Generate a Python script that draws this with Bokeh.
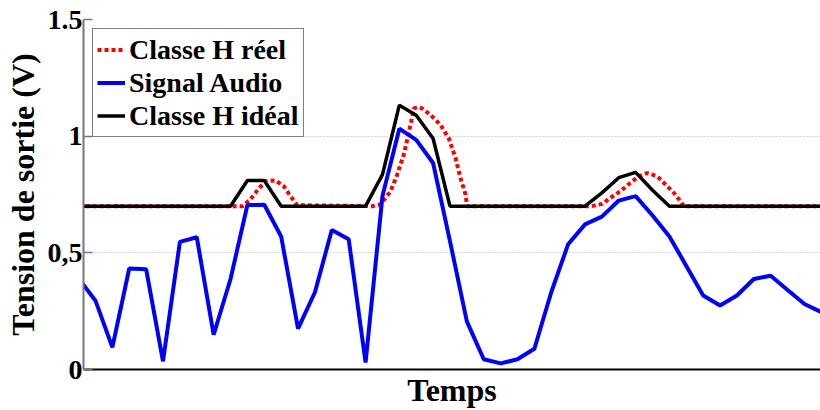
from bokeh.plotting import figure
from bokeh.models import Range1d, FixedTicker, Legend, LegendItem
from bokeh.embed import file_html
from bokeh.resources import INLINE

# ---- data (time in sample units, tension in V) ----
t = list(range(-1, 44))
signal_audio = [0.39, 0.295, 0.095, 0.433, 0.430, 0.035, 0.547, 0.567, 0.149, 0.388,
                0.705, 0.706, 0.570, 0.175, 0.331, 0.598, 0.558, 0.030, 0.743, 1.032,
                0.984, 0.885, 0.55, 0.206, 0.044, 0.026, 0.044, 0.089, 0.331, 0.537,
                0.622, 0.655, 0.724, 0.743, 0.660, 0.570, 0.444, 0.317, 0.274, 0.317,
                0.388, 0.402, 0.341, 0.281, 0.246]
classe_h_ideal = [0.70, 0.70, 0.70, 0.70, 0.70, 0.70, 0.70, 0.70, 0.70, 0.70,
                  0.81, 0.81, 0.70, 0.70, 0.70, 0.70, 0.70, 0.70, 0.835, 1.133,
                  1.09, 0.99, 0.70, 0.70, 0.70, 0.70, 0.70, 0.70, 0.70, 0.70,
                  0.70, 0.757, 0.822, 0.845, 0.768, 0.70, 0.70, 0.70, 0.70, 0.70,
                  0.70, 0.70, 0.70, 0.70, 0.70]
t_reel = [-1, 8.7, 9.18, 9.67, 10.07, 10.66, 11.16, 11.55, 11.95,
          16.4, 16.88, 17.48, 17.87, 18.26, 18.66, 18.86, 19.1, 19.35, 19.85, 20.44,
          20.93, 21.33, 21.62, 21.92, 22.02,
          29.4, 30.02, 30.51, 31.1, 31.69, 32.19, 32.68, 33.28, 33.77, 34.26, 34.66,
          34.85, 43]
classe_h_reel = [0.70, 0.70, 0.729, 0.775, 0.807, 0.81, 0.785, 0.743, 0.704,
                 0.70, 0.707, 0.764, 0.835, 0.92, 1.048, 1.119, 1.125, 1.119, 1.091, 1.048,
                 0.991, 0.906, 0.821, 0.75, 0.70,
                 0.70, 0.71, 0.736, 0.764, 0.80, 0.828, 0.842, 0.828, 0.793, 0.757, 0.721,
                 0.70, 0.70]

y_ticks = [0, 0.5, 1, 1.5]
y_tick_labels = ["0", "0,5", "1", "1.5"]

FONT = "Liberation Serif"

p = figure(width=820, height=410, output_backend="svg", toolbar_location=None,
           x_range=Range1d(-0.71, 42.95), y_range=Range1d(0, 1.5),
           min_border_left=83, min_border_right=0, min_border_top=19, min_border_bottom=39)
p.outline_line_color = None
p.background_fill_color = "white"

r_reel = p.line(t_reel, classe_h_reel, line_color="#ff0000", line_width=4, line_dash="4 3")
r_audio = p.line(t, signal_audio, line_color="#0000ff", line_width=4)
r_ideal = p.line(t, classe_h_ideal, line_color="black", line_width=3.5)

# axes
p.xgrid.visible = False
p.ygrid.grid_line_color = "#b0b0b0"
p.ygrid.grid_line_dash = "1 2"
p.ygrid.grid_line_width = 1

p.yaxis.ticker = FixedTicker(ticks=y_ticks)
p.yaxis.major_label_overrides = {v: s for v, s in zip(y_ticks, y_tick_labels)}
p.yaxis.axis_line_color = "#777777"
p.yaxis.axis_line_width = 2
p.yaxis.major_tick_line_color = "#777777"
p.yaxis.major_tick_line_width = 1.5
p.yaxis.major_tick_in = 9
p.yaxis.major_tick_out = 0
p.yaxis.minor_tick_line_color = None
p.yaxis.major_label_text_font = FONT
p.yaxis.major_label_text_font_style = "bold"
p.yaxis.major_label_text_font_size = "28px"
p.yaxis.major_label_text_color = "black"
p.yaxis.major_label_standoff = 1
p.yaxis.axis_label = "Tension de sortie (V)"
p.yaxis.axis_label_text_font = FONT
p.yaxis.axis_label_text_font_style = "bold"
p.yaxis.axis_label_text_font_size = "32px"
p.yaxis.axis_label_text_color = "black"
p.yaxis.axis_label_standoff = 4

p.xaxis.ticker = FixedTicker(ticks=[])
p.xaxis.axis_line_color = "black"
p.xaxis.axis_line_width = 2
p.xaxis.major_tick_line_color = None
p.xaxis.minor_tick_line_color = None
p.xaxis.major_label_text_font_size = "0px"
p.xaxis.major_label_standoff = 0
p.xaxis.axis_label = "Temps"
p.xaxis.axis_label_text_font = FONT
p.xaxis.axis_label_text_font_style = "bold"
p.xaxis.axis_label_text_font_size = "32px"
p.xaxis.axis_label_text_color = "black"
p.xaxis.axis_label_standoff = 2

legend = Legend(items=[
    LegendItem(label="Classe H réel", renderers=[r_reel]),
    LegendItem(label="Signal Audio", renderers=[r_audio]),
    LegendItem(label="Classe H idéal", renderers=[r_ideal]),
], location="top_left")
legend.label_text_font = FONT
legend.label_text_font_style = "bold"
legend.label_text_font_size = "28px"
legend.label_text_color = "black"
legend.glyph_width = 28
legend.glyph_height = 33
legend.label_height = 33
legend.label_standoff = 4
legend.spacing = 0
legend.padding = 4
legend.margin = 9
legend.border_line_color = "black"
legend.border_line_width = 1.5
legend.background_fill_color = "white"
legend.background_fill_alpha = 1
p.add_layout(legend)

open("out.html", "w").write(file_html(p, INLINE))
